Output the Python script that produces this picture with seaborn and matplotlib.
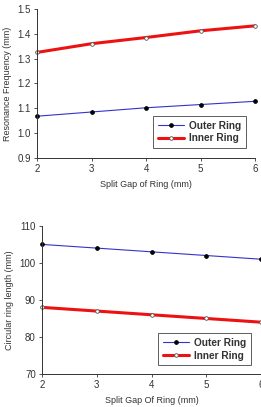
import numpy as np
import seaborn as sns
import pandas as pd
import matplotlib.pyplot as plt

gap = [2, 3, 4, 5, 6]
freq_outer = [1.068, 1.085, 1.102, 1.115, 1.128]
freq_inner = [1.325, 1.360, 1.385, 1.412, 1.432]
len_outer = [105, 104, 103, 102, 101]
len_inner = [88, 87, 86, 85, 84]

sns.set_style('white')
plt.rcParams['font.family'] = ['Liberation Sans', 'DejaVu Sans']

fig = plt.figure(figsize=(2.61, 4.07), dpi=100)
ax1 = fig.add_axes([0.142, 0.612, 0.835, 0.366])
ax2 = fig.add_axes([0.161, 0.081, 0.839, 0.364])

def draw(ax, outer, inner, ylabel, xlabel, ylim, yticks, fmt, legloc):
    sns.lineplot(x=gap, y=outer, ax=ax, color='#3333cc', lw=0.8,
                 marker='o', markersize=2.6, markerfacecolor='black',
                 markeredgecolor='black', label='Outer Ring')
    sns.lineplot(x=gap, y=inner, ax=ax, color='#ee1111', lw=2.2,
                 marker='o', markersize=2.6, markerfacecolor='white',
                 markeredgecolor='#555555', markeredgewidth=0.6,
                 label='Inner Ring')
    ax.set_xlim(2, 6)
    ax.set_ylim(*ylim)
    ax.set_xticks(gap)
    ax.set_yticks(yticks)
    ax.set_yticklabels([fmt.format(v) for v in yticks])
    ax.set_xlabel(xlabel, fontsize=6.5, color='#333333')
    ax.set_ylabel(ylabel, fontsize=6.5, color='#333333')
    ax.tick_params(labelsize=7, length=2.5, width=0.6, direction='out',
                   bottom=True, left=True, colors='#333333', pad=2)
    for s in ['top', 'right']:
        ax.spines[s].set_visible(False)
    for s in ['left', 'bottom']:
        ax.spines[s].set_color('#333333')
        ax.spines[s].set_linewidth(0.7)
    for m in ax.lines:
        m.set_clip_on(False)
    leg = ax.legend(loc='lower right', bbox_to_anchor=legloc, fontsize=7.3,
                    frameon=True, fancybox=False, edgecolor='#333333',
                    handlelength=2.6, borderpad=0.45, labelspacing=0.25,
                    handletextpad=0.5, borderaxespad=0)
    leg.get_frame().set_linewidth(0.7)
    for t in leg.get_texts():
        t.set_fontweight('bold')
        t.set_color('#333333')

draw(ax1, freq_outer, freq_inner, 'Resonance Frequency (mm)',
     'Split Gap of Ring (mm)', (0.9, 1.5),
     [0.9, 1.0, 1.1, 1.2, 1.3, 1.4, 1.5], '{:.1f}', (0.959, 0.067))
draw(ax2, len_outer, len_inner, 'Circular ring length (mm)',
     'Split Gap Of Ring (mm)', (70, 110),
     [70, 80, 90, 100, 110], '{:.0f}', (0.954, 0.06))

fig.savefig('out.png', dpi=100)
